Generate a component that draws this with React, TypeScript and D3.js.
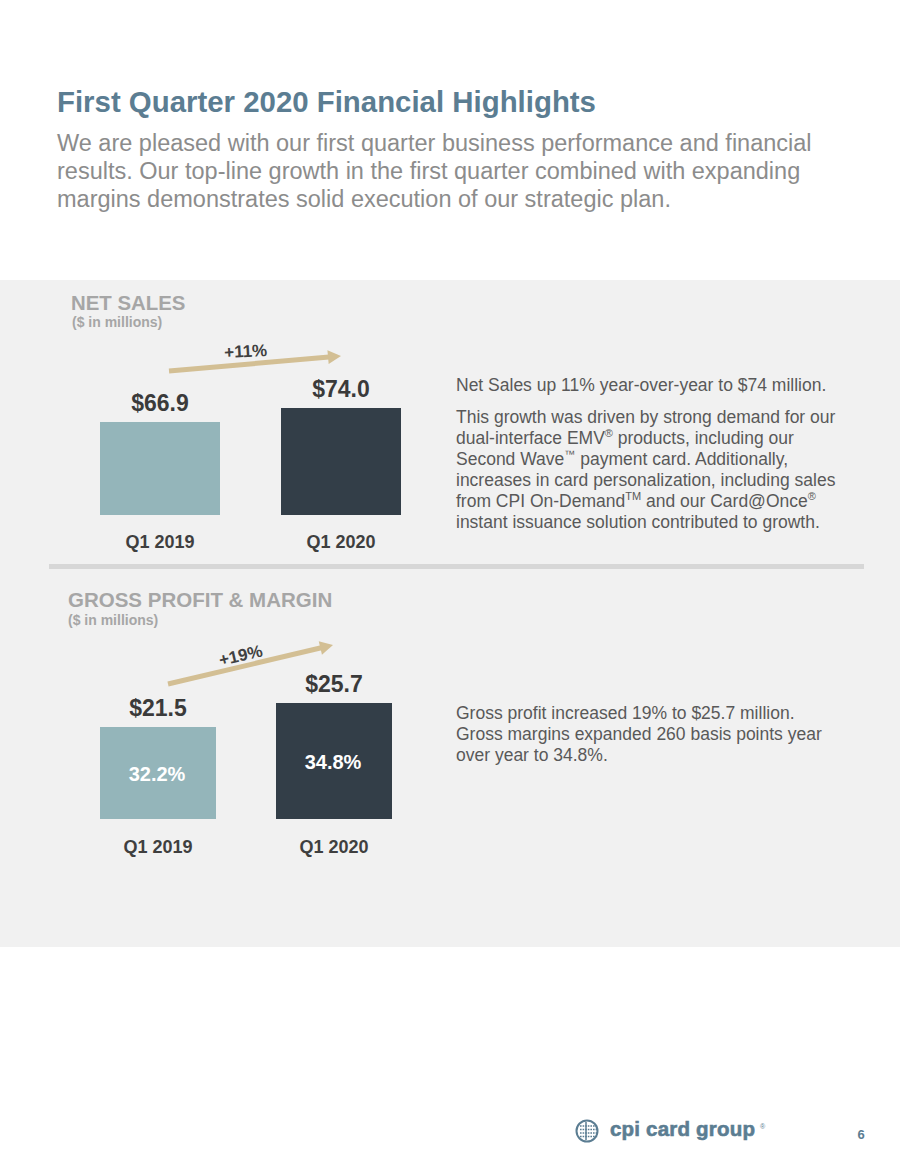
import React from "react";
import * as d3 from "d3";

const categories = ["Q1 2019", "Q1 2020"];
const netSales = [66.9, 74.0];
const grossProfit = [21.5, 25.7];
const grossMargin = [32.2, 34.8];
const netGrowth = "+11%";
const grossGrowth = "+19%";

const FONT = "'Liberation Sans', Arial, Helvetica, sans-serif";
const LIGHT = "#94b5ba";
const DARK = "#333e48";
const ARROW = "#d3bf94";
const TITLE = "#5b7d92";

function Arrow({ x1, y1, x2, y2 }: { x1: number; y1: number; x2: number; y2: number }) {
  const ang = Math.atan2(y2 - y1, x2 - x1);
  const head = 13;
  const hw = 7;
  const bx = x2 - head * Math.cos(ang);
  const by = y2 - head * Math.sin(ang);
  const px = -Math.sin(ang) * hw;
  const py = Math.cos(ang) * hw;
  return (
    <g>
      <line x1={x1} y1={y1} x2={bx + Math.cos(ang)} y2={by + Math.sin(ang)} stroke={ARROW} strokeWidth={5} />
      <polygon points={`${x2},${y2} ${bx + px},${by + py} ${bx - px},${by - py}`} fill={ARROW} />
    </g>
  );
}

function BarPanel(props: {
  values: number[];
  inner?: number[];
  xRange: [number, number];
  padInner: number;
  yDomainMin: number;
  base: number;
  top: number;
  labelY: number;
  growth: string;
  arrowOff: [number, number, number, number];
  growthPos: [number, number, number];
}) {
  const { values, inner, xRange, padInner, yDomainMin, base, top, labelY, growth, arrowOff, growthPos } = props;
  const x = d3.scaleBand<string>().domain(categories).range(xRange).paddingInner(padInner).paddingOuter(0);
  const y = d3.scaleLinear().domain([yDomainMin, d3.max(values) as number]).range([base, top]);
  const c0 = (x(categories[0]) as number) + x.bandwidth() / 2;
  const c1 = (x(categories[1]) as number) + x.bandwidth() / 2;
  return (
    <g>
      {values.map((v, i) => (
        <rect
          key={i}
          x={x(categories[i])}
          y={y(v)}
          width={x.bandwidth()}
          height={base - y(v)}
          fill={i === 0 ? LIGHT : DARK}
        />
      ))}
      {values.map((v, i) => (
        <text
          key={"v" + i}
          x={(x(categories[i]) as number) + x.bandwidth() / 2}
          y={y(v) - 11}
          textAnchor="middle"
          fontFamily={FONT}
          fontWeight="bold"
          fontSize={23}
          fill="#3a3a3a"
        >
          {"$" + v.toFixed(1)}
        </text>
      ))}
      {inner &&
        inner.map((m, i) => (
          <text
            key={"m" + i}
            x={(x(categories[i]) as number) + x.bandwidth() / 2 - 1}
            y={(y(values[i]) + base) / 2 + 8}
            textAnchor="middle"
            fontFamily={FONT}
            fontWeight="bold"
            fontSize={20}
            fill="#ffffff"
          >
            {m.toFixed(1) + "%"}
          </text>
        ))}
      {categories.map((c, i) => (
        <text
          key={"c" + i}
          x={(x(c) as number) + x.bandwidth() / 2}
          y={labelY}
          textAnchor="middle"
          fontFamily={FONT}
          fontWeight="bold"
          fontSize={18}
          fill="#3f3f3f"
        >
          {c}
        </text>
      ))}
      <Arrow
        x1={c0 + arrowOff[0]}
        y1={y(values[0]) + arrowOff[1]}
        x2={c1 + arrowOff[2]}
        y2={y(values[1]) + arrowOff[3]}
      />
      <text
        x={growthPos[0]}
        y={growthPos[1]}
        textAnchor="middle"
        fontFamily={FONT}
        fontWeight="bold"
        fontSize={17}
        fill="#404040"
        transform={`rotate(${growthPos[2]} ${growthPos[0]} ${growthPos[1]})`}
      >
        {growth}
      </text>
    </g>
  );
}

function Sup({ children }: { children: string }) {
  return (
    <tspan fontSize={11} dy={-7}>
      {children}
    </tspan>
  );
}

export default function App() {
  const bodyColor = "#595959";
  return (
    <svg
      width={900}
      height={1164}
      viewBox="0 0 900 1164"
      style={{ position: "absolute", left: 0, top: 0, background: "#ffffff" }}
    >
      <rect x={0} y={0} width={900} height={1164} fill="#ffffff" />
      <text x={57} y={112} fontFamily={FONT} fontWeight="bold" fontSize={29.4} fill={TITLE}>
        First Quarter 2020 Financial Highlights
      </text>
      <g fontFamily={FONT} fontSize={23.5} fill="#8c8c8c">
        <text x={57} y={151}>We are pleased with our first quarter business performance and financial</text>
        <text x={57} y={179}>results. Our top-line growth in the first quarter combined with expanding</text>
        <text x={57} y={207}>margins demonstrates solid execution of our strategic plan.</text>
      </g>

      <rect x={0} y={280} width={900} height={667} fill="#f1f1f1" />
      <rect x={49} y={564} width={815} height={5} fill="#d7d7d7" />

      <text x={71} y={310} fontFamily={FONT} fontWeight="bold" fontSize={20.4} fill="#a6a6a6">NET SALES</text>
      <text x={72} y={327} fontFamily={FONT} fontWeight="bold" fontSize={14} fill="#a6a6a6">($ in millions)</text>

      <BarPanel
        values={netSales}
        xRange={[100, 401]}
        padInner={61 / 181}
        yDomainMin={19.7}
        base={515}
        top={408}
        labelY={548}
        growth={netGrowth}
        arrowOff={[9, -51, 0, -52]}
        growthPos={[246, 357, -3]}
      />

      <g fontFamily={FONT} fontSize={17.5} fill={bodyColor}>
        <text x={456} y={391}>Net Sales up 11% year-over-year to $74 million.</text>
        <text x={456} y={423}>This growth was driven by strong demand for our</text>
        <text x={456} y={444}>
          dual-interface EMV<Sup>®</Sup>
          <tspan dy={7}> products, including our</tspan>
        </text>
        <text x={456} y={465}>
          Second Wave<Sup>™</Sup>
          <tspan dy={7}> payment card. Additionally,</tspan>
        </text>
        <text x={456} y={486}>increases in card personalization, including sales</text>
        <text x={456} y={507}>
          from CPI On-Demand<Sup>TM</Sup>
          <tspan dy={7}> and our Card@Once</tspan>
          <Sup>®</Sup>
        </text>
        <text x={456} y={528}>instant issuance solution contributed to growth.</text>
      </g>

      <text x={68} y={607} fontFamily={FONT} fontWeight="bold" fontSize={20.5} fill="#a6a6a6">GROSS PROFIT &amp; MARGIN</text>
      <text x={68} y={625} fontFamily={FONT} fontWeight="bold" fontSize={14} fill="#a6a6a6">($ in millions)</text>

      <BarPanel
        values={grossProfit}
        inner={grossMargin}
        xRange={[100, 392]}
        padInner={60 / 176}
        yDomainMin={5.4}
        base={819}
        top={703}
        labelY={853}
        growth={grossGrowth}
        arrowOff={[10, -43, -1, -58]}
        growthPos={[242, 661, -13]}
      />

      <g fontFamily={FONT} fontSize={17.5} fill={bodyColor}>
        <text x={456} y={719}>Gross profit increased 19% to $25.7 million.</text>
        <text x={456} y={740}>Gross margins expanded 260 basis points year</text>
        <text x={456} y={761}>over year to 34.8%.</text>
      </g>

      {/* footer logo */}
      <g>
        <circle cx={587} cy={1131} r={10.5} fill="none" stroke={TITLE} strokeWidth={2} />
        {[-5, -1.5, 2, 5.5].map((dy, i) => (
          <line key={"gh" + i} x1={580} x2={598} y1={1131 + dy} y2={1131 + dy} stroke={TITLE} strokeWidth={1.3} strokeDasharray="1.6 1" />
        ))}
        <line x1={586} x2={586} y1={1122} y2={1140} stroke={TITLE} strokeWidth={1.5} />
        <text x={610} y={1136} fontFamily={FONT} fontWeight="bold" fontSize={20.5} fill={TITLE} stroke={TITLE} strokeWidth={0.6} letterSpacing={0.2}>
          cpi card group
        </text>
        <text x={760} y={1129} fontFamily={FONT} fontSize={7} fill={TITLE}>®</text>
        <text x={861} y={1139} textAnchor="middle" fontFamily={FONT} fontWeight="bold" fontSize={13} fill={TITLE}>6</text>
      </g>
    </svg>
  );
}
